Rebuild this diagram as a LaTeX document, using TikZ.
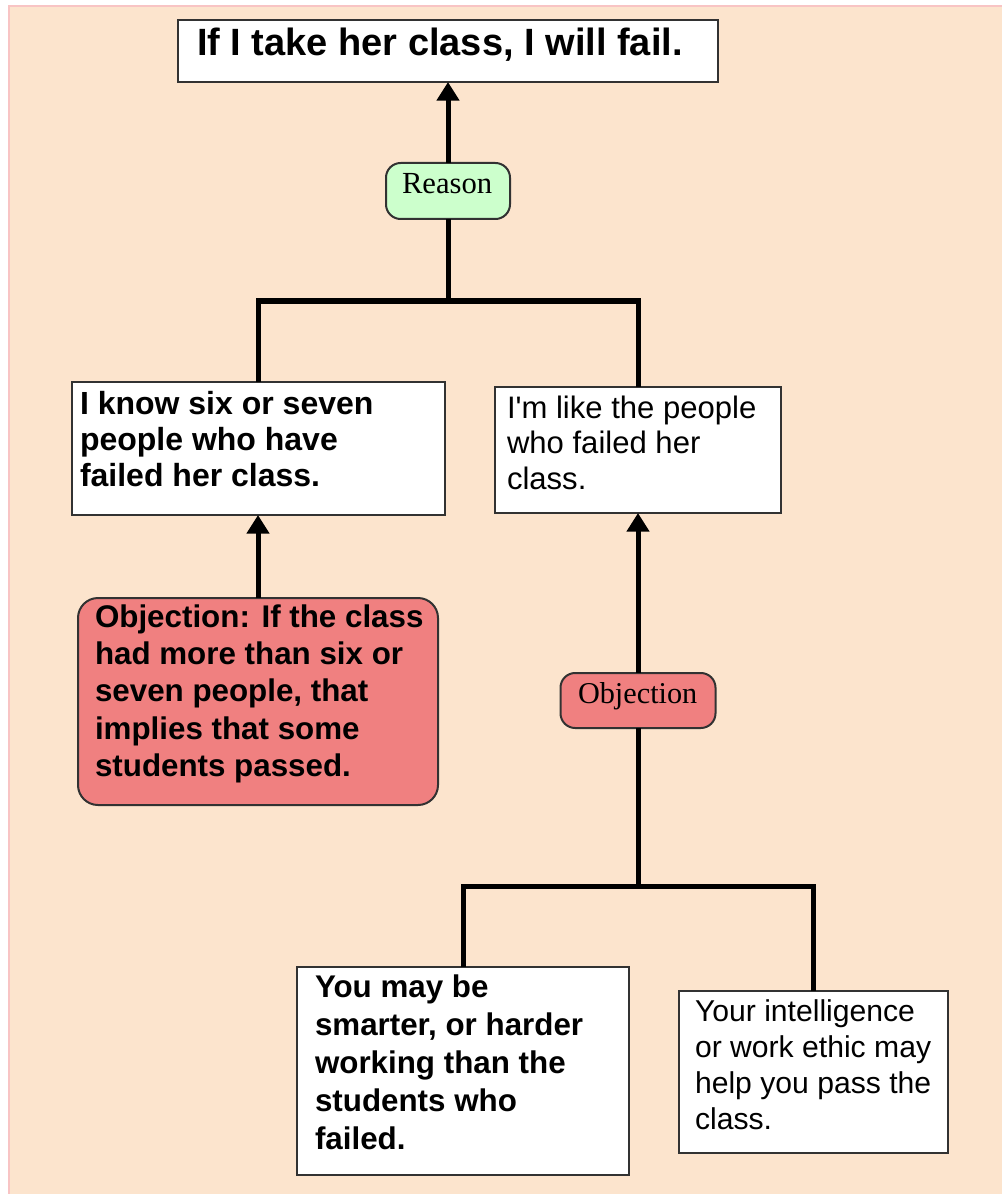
\documentclass[tikz,border=0pt]{standalone}
\usepackage{fontspec}
\setmainfont{Liberation Serif}
\newfontfamily\sansfont{Liberation Sans}
\usetikzlibrary{arrows.meta}

\definecolor{peach}{RGB}{252,228,205}
\definecolor{peachedge}{RGB}{248,196,196}
\definecolor{coral}{RGB}{240,128,128}
\definecolor{mint}{RGB}{204,255,204}
\definecolor{frame}{RGB}{50,50,50}

\newcommand{\textlines}[1]{\parbox[t]{12cm}{#1}}

\tikzset{
  panel/.style={draw=frame, line width=1.5pt, fill=white, inner sep=0pt, outer sep=0pt},
  redpanel/.style={panel, fill=coral, rounded corners=15pt},
  tag/.style={panel, rounded corners=11pt},
  words/.style={anchor=base west, inner sep=0pt, outer sep=0pt, text=black},
  bold/.style 2 args={words, font=\sansfont\bfseries\fontsize{#1}{#2}\selectfont},
  plain/.style 2 args={words, font=\sansfont\fontsize{#1}{#2}\selectfont},
  serifword/.style={words, font=\fontsize{#1}{#1}\selectfont},
  link/.style={line width=3.75pt, draw=black},
  arrowlink/.style={link, -{Triangle[width=16.5pt,length=14pt]}},
}

\begin{document}
\begin{tikzpicture}[x=0.75pt, y=-0.75pt]
  % page and tinted sheet
  \useasboundingbox (0,0) rectangle (1002,1194);
  \fill[white] (0,0) rectangle (1002,1194);
  \fill[peach] (9,6) rectangle (1002,1194);
  \draw[peachedge, line width=1.2pt] (9,1194) -- (9,6) -- (1002,6);

  % claim
  \node[panel, minimum width=405pt, minimum height=46.5pt] (claim) at (448,51) {};
  \node[bold={28.5pt}{33pt}] (claimtxt) at (197,56) {If I take her class, I will fail.};

  % reasons
  \node[panel, minimum width=279.75pt, minimum height=99.75pt] (know) at (258,448.5) {};
  \node[bold={24pt}{27pt}] (knowtxt) at (80,414) {\textlines{I know six or seven\\people who have\\failed her class.}};

  \node[panel, minimum width=214.5pt, minimum height=94.5pt] (like) at (638,450) {};
  \node[plain={23.3pt}{26.7pt}] (liketxt) at (507,418) {\textlines{I'm like the people\\who failed her\\class.}};

  % objection to the first reason
  \node[redpanel, minimum width=270pt, minimum height=155.25pt] (obj) at (258,701.5) {};
  \node[bold={23.5pt}{28.1pt}] (objtxt) at (95,627)
    {\textlines{Objection: If the class\\had more than six or\\seven people, that\\implies that some\\students passed.}};

  % supports of the objection to the second reason
  \node[panel, minimum width=249pt, minimum height=156pt] (smart) at (463,1071) {};
  \node[bold={23.5pt}{28.5pt}] (smarttxt) at (315,997)
    {\textlines{You may be\\smarter, or harder\\working than the\\students who\\failed.}};

  \node[panel, minimum width=201.75pt, minimum height=121.5pt] (ethic) at (813.5,1072) {};
  \node[plain={22.6pt}{27pt}] (ethictxt) at (695,1021)
    {\textlines{Your intelligence\\or work ethic may\\help you pass the\\class.}};

  % link tags
  \node[tag, fill=mint, minimum width=93pt, minimum height=42pt] (reason) at (448,191) {};
  \node[serifword=23pt] (reasontxt) at (402,194) {Reason};

  \node[tag, fill=coral, minimum width=116.25pt, minimum height=41.25pt] (objtag) at (638,700.5) {};
  \node[serifword=22.7pt] (objtagtxt) at (578,703) {Objection};

  % junctions
  \coordinate (upper) at (448,301);
  \coordinate (lower) at (638,886);

  % connectors
  \draw[link] (know.north) |- (upper) -| (like.north);
  \draw[link] (upper) -- (reason.south);
  \draw[arrowlink] (reason.north) -- (claim.south);

  \draw[arrowlink] (obj.north) -- (know.south);

  \draw[link] (smart.north) |- (lower) -| (ethic.north);
  \draw[link] (lower) -- (objtag.south);
  \draw[arrowlink] (objtag.north) -- (like.south);
\end{tikzpicture}
\end{document}
